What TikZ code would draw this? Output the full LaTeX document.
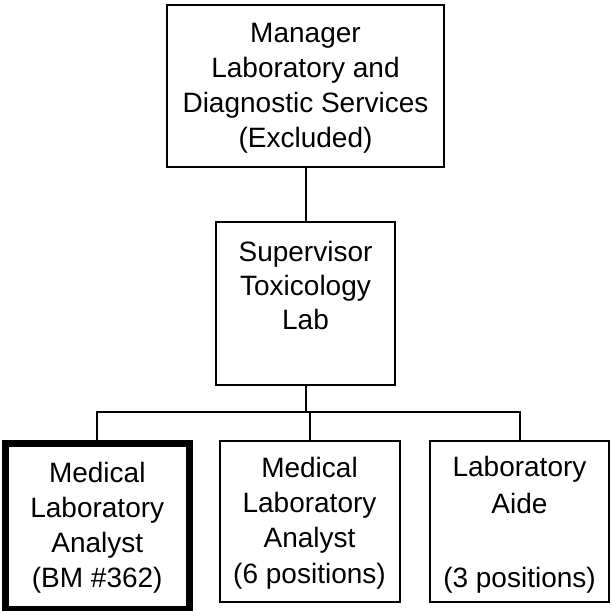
\documentclass[tikz,border=0pt]{standalone}
\usepackage{fontspec}
\setmainfont{Liberation Sans}
\begin{document}
\begin{tikzpicture}[x=1pt,y=-1pt,
  box/.style={draw, line width=2pt, rectangle, inner sep=0pt, outer sep=0pt},
  thickbox/.style={draw, line width=7pt, rectangle, inner sep=0pt, outer sep=0pt},
  txt/.style={align=center, inner sep=0pt, anchor=base, font=\fontsize{28}{34.7}\selectfont},
  conn/.style={line width=2pt}]
\useasboundingbox (0,0) rectangle (612,610);
% boxes
\node[box, minimum width=277pt, minimum height=162pt] (top) at (305.5,86) {};
\node[box, minimum width=179pt, minimum height=163pt] (mid) at (305.5,303.5) {};
\node[thickbox, minimum width=183.5pt, minimum height=165.5pt] (b1) at (97.25,526.25) {};
\node[box, minimum width=179.5pt, minimum height=161pt] (b2) at (309.75,521.5) {};
\node[box, minimum width=179pt, minimum height=161pt] (b3) at (519.5,521.5) {};
% texts (anchor base = baseline of the last line)
\node[txt, font=\fontsize{28}{34.7}\selectfont] (ttop) at (305.5,147) {Manager\\Laboratory and\\Diagnostic Services\\(Excluded)};
\node[txt, font=\fontsize{28}{34}\selectfont] (tmid) at (305.5,329) {Supervisor\\Toxicology\\Lab};
\node[txt] (tb1) at (97.25,587) {Medical\\Laboratory\\Analyst\\(BM \#362)};
\node[txt, font=\fontsize{28}{35.2}\selectfont] (tb2) at (309.5,583) {Medical\\Laboratory\\Analyst\\(6 positions)};
\node[txt, font=\fontsize{28}{37}\selectfont] (tb3) at (519.5,587) {Laboratory\\Aide\\ \\(3 positions)};
% connectors
\coordinate (busL) at (97.25,412);
\coordinate (busR) at (519.5,412);
\draw[conn] (top.south) -- (mid.north);
\draw[conn] (mid.south) -- (mid.south |- busL);
\draw[conn, line cap=rect] (busL) -- (busR);
\draw[conn] (busL) -- (b1.north);
\draw[conn] (b2.north |- busL) -- (b2.north);
\draw[conn] (busR) -- (b3.north);
\end{tikzpicture}
\end{document}
